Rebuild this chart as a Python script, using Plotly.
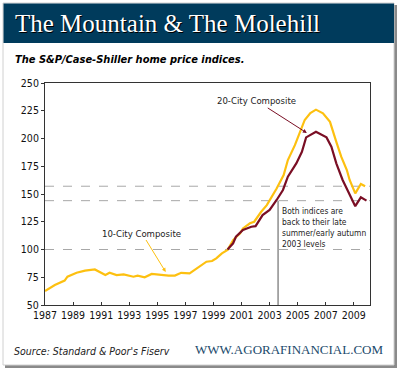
import plotly.graph_objects as go

# ---- data ----
ten_years = [1987.0, 1987.7, 1988.4, 1988.6, 1989.25, 1989.85, 1990.55, 1990.9, 1991.3, 1991.6,
             1992.1, 1992.6, 1993.3, 1993.6, 1994.1, 1994.6, 1995.3, 1995.8, 1996.25, 1996.7,
             1997.3, 1998.0, 1998.5, 1998.9, 1999.2, 1999.6, 2000.0, 2000.4, 2000.9, 2001.1,
             2001.6, 2001.9, 2002.4, 2002.8, 2003.1, 2003.5, 2004.0, 2004.3, 2004.8, 2005.15,
             2005.5, 2005.9, 2006.3, 2006.8, 2007.3, 2007.75, 2008.1, 2008.5, 2008.7, 2009.1,
             2009.3, 2009.5, 2009.8]
ten_city = [62.6, 68, 72, 75.5, 79, 81, 82, 80, 77, 79,
            77, 77.6, 75.5, 76.5, 75, 78, 77, 76.5, 76.5, 79,
            78.5, 84.5, 89, 89.6, 92, 96.5, 99.5, 108.5, 114.6, 119,
            123.6, 125, 134, 140, 146, 155, 167, 180.6, 194, 204.7,
            216.7, 223, 226, 222.7, 215, 197, 183.6, 171.6, 162.6, 150.6,
            155, 159, 157]

twenty_years = [2000.0, 2000.4, 2000.6, 2001.1, 2001.7, 2002.0, 2002.5, 2003.0, 2003.5, 2003.95,
                2004.3, 2004.9, 2005.3, 2005.6, 2006.3, 2007.05, 2007.4, 2007.75, 2008.2, 2008.6,
                2009.1, 2009.5, 2009.9]
twenty_city = [100, 105.6, 111.5, 117.6, 120.5, 121, 131, 135.6, 144.6, 153.6,
               165.6, 177.6, 188, 201, 206, 201, 192.6, 177.6, 162.6, 152,
               139, 147, 144]

x_ticks = [1987, 1989, 1991, 1993, 1995, 1997, 1999, 2001, 2003, 2005, 2007, 2009]
y_ticks = [50, 75, 100, 125, 150, 175, 200, 225, 250]
ref_levels = [157, 144, 100]
marker_year = 2003.6

W, H = 400, 371
L, R, T, B = 45, 30, 83, 66
XMIN, XMAX = 1987, 2010.15
YMIN, YMAX = 50, 250

def px(x):
    return (x - L) / (W - L - R)

def py(y):
    return (H - B - y) / (H - T - B)

YELLOW = "#FDC010"
DARKRED = "#7A0E24"
NAVY = "#003B5C"
SANS = "Liberation Sans Narrow, Arial Narrow, DejaVu Sans Condensed, Liberation Sans, sans-serif"

fig = go.Figure()
fig.add_trace(go.Scatter(x=ten_years, y=ten_city, mode="lines", name="10-City Composite",
                         line=dict(color=YELLOW, width=2.2), hoverinfo="skip"))
fig.add_trace(go.Scatter(x=twenty_years, y=twenty_city, mode="lines", name="20-City Composite",
                         line=dict(color=DARKRED, width=2.2), hoverinfo="skip"))

shapes = []
# card shadow and card
shapes.append(dict(type="rect", xref="paper", yref="paper", x0=px(5), x1=px(397), y0=py(368), y1=py(5),
                   fillcolor="#8a8a8a", line=dict(width=0), layer="below"))
shapes.append(dict(type="rect", xref="paper", yref="paper", x0=px(3), x1=px(394), y0=py(365), y1=py(3),
                   fillcolor="white", line=dict(width=1, color="#d0d0d0"), layer="below"))
shapes.append(dict(type="rect", xref="paper", yref="paper", x0=px(3.5), x1=px(394), y0=py(43), y1=py(3.5),
                   fillcolor=NAVY, line=dict(width=0), layer="below"))
# reference lines
for lv in ref_levels:
    shapes.append(dict(type="line", xref="paper", yref="y", x0=0, x1=1, y0=lv, y1=lv,
                       line=dict(color="#a8a8a8", width=1, dash="dash"), layer="below"))
shapes.append(dict(type="line", xref="x", yref="y", x0=marker_year, x1=marker_year, y0=YMIN, y1=144,
                   line=dict(color="#555555", width=1), layer="below"))

annotations = [
    dict(text="The Mountain & The Molehill", xref="paper", yref="paper", x=px(14), y=py(24.5),
         xanchor="left", yanchor="middle", showarrow=False,
         font=dict(family="Liberation Serif, serif", size=25, color="black")),
    dict(text="The Mountain & The Molehill", xref="paper", yref="paper", x=px(13), y=py(23.5),
         xanchor="left", yanchor="middle", showarrow=False,
         font=dict(family="Liberation Serif, serif", size=25, color="white")),
    dict(text="<b><i>The S&P/Case-Shiller home price indices.</i></b>", xref="paper", yref="paper",
         x=px(13), y=py(60), xanchor="left", yanchor="middle", showarrow=False,
         font=dict(family=SANS, size=11, color="black")),
    dict(text="<i>Source: Standard & Poor's Fiserv</i>", xref="paper", yref="paper",
         x=px(12), y=py(351), xanchor="left", yanchor="middle", showarrow=False,
         font=dict(family=SANS, size=10.5, color="#222222")),
    dict(text="WWW.AGORAFINANCIAL.COM", xref="paper", yref="paper",
         x=px(385), y=py(349), xanchor="right", yanchor="middle", showarrow=False,
         font=dict(family="Liberation Serif, serif", size=13, color="#1B4A6B")),
    dict(text="20-City Composite", x=2005.65, y=205, xref="x", yref="y",
         ax=-50, ay=-32, showarrow=True, arrowhead=2, arrowsize=0.8, arrowwidth=1,
         arrowcolor=DARKRED, font=dict(family=SANS, size=9.5, color="#222222")),
    dict(text="10-City Composite", x=1995.6, y=79.7, xref="x", yref="y",
         ax=-24, ay=-39, showarrow=True, arrowhead=2, arrowsize=0.8, arrowwidth=1,
         arrowcolor=YELLOW, font=dict(family=SANS, size=9.5, color="#222222")),
    dict(text="Both indices are<br>back to their late<br>summer/early autumn<br>2003 levels",
         xref="paper", yref="paper", x=px(280), y=py(204), xanchor="left", yanchor="top",
         align="left", showarrow=False,
         font=dict(family=SANS, size=8.4, color="#222222")),
]

fig.update_layout(
    width=W, height=H,
    margin=dict(l=L, r=R, t=T, b=B, pad=0),
    paper_bgcolor="white", plot_bgcolor="rgba(0,0,0,0)",
    showlegend=False,
    shapes=shapes, annotations=annotations,
    xaxis=dict(range=[XMIN, XMAX], tickvals=x_ticks, ticktext=[str(v) for v in x_ticks],
               showgrid=False, zeroline=False, showline=True, linecolor="#333333", linewidth=1,
               mirror=True, ticks="inside", ticklen=3, tickcolor="#333333", tickangle=0,
               automargin=False,
               tickfont=dict(family=SANS, size=10.5, color="#111111")),
    yaxis=dict(range=[YMIN, YMAX], tickvals=y_ticks, showgrid=False, zeroline=False,
               showline=True, linecolor="#333333", linewidth=1, mirror=True,
               ticks="outside", ticklen=3, tickcolor="#333333", automargin=False,
               tickfont=dict(family=SANS, size=10.5, color="#111111")),
)

fig.write_html("out.html", config={"displayModeBar": False},
               post_script="document.body.style.margin='0px';document.body.style.overflow='hidden';")
